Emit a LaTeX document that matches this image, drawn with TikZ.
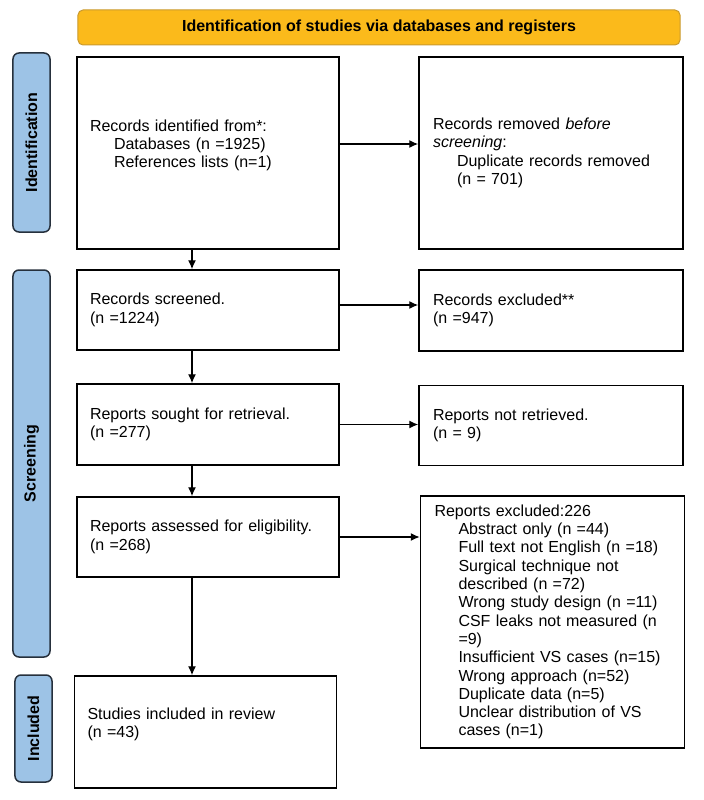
\documentclass[tikz,border=0pt]{standalone}
\usepackage{fontspec}
\setmainfont{Liberation Sans}
\usepackage{xcolor}
\usetikzlibrary{arrows.meta}
\definecolor{prismaGold}{HTML}{FBBA1B}
\definecolor{prismaGoldEdge}{HTML}{C9992E}
\definecolor{prismaBlue}{HTML}{9DC3E6}
\definecolor{prismaNavy}{HTML}{26303C}
\newcommand{\subind}{\hspace*{24bp}}
\tikzset{
    header-box/.style = {draw=prismaGoldEdge, fill=prismaGold, line width=1bp, rectangle, rounded corners=5bp, minimum width=602bp, minimum height=35bp, font=\fontsize{16bp}{18.3bp}\selectfont\bfseries},
    phase-label/.style = {draw=prismaNavy, fill=prismaBlue, line width=1.5bp, rectangle, rounded corners=6bp, rotate=90, minimum height=37bp, font=\fontsize{16bp}{18.3bp}\selectfont\bfseries},
    flow-box/.style = {draw=black, fill=white, line width=1.5bp, rectangle, align=left, inner xsep=13bp, text width=236bp, minimum height=#1, font=\fontsize{16bp}{18.3bp}\selectfont},
    side-box/.style = {flow-box=#1, inner xsep=14bp},
    flow-arrow/.style = {-{Latex[length=9bp, width=8bp]}, line width=1.3bp},
}

\begin{document}
\begin{tikzpicture}[x=1bp, y=-1bp]
\useasboundingbox (0,0) rectangle (704,800);
% header and phases
\node[header-box] (header) at (379,27.5) {Identification of studies via databases and registers};
\node[phase-label, minimum width=179bp] (ident) at (31.5,142.5) {Identification};
\node[phase-label, minimum width=387bp] (screen) at (31.5,463.5) {Screening};
\node[phase-label, minimum width=107bp] (incl) at (33.5,728.5) {Included};
% main column
\node[flow-box=192bp] (idrec) at (208,153) {Records identified from*:\\
    \subind Databases (n =1925)\\
    \subind References lists (n=1)\\ \mbox{}};
\node[flow-box=80bp] (screened) at (208,310) {Records screened.\\(n =1224)};
\node[flow-box=81bp] (sought) at (208,424.5) {Reports sought for retrieval.\\(n =277)};
\node[flow-box=80bp] (assessed) at (208,537) {Reports assessed for eligibility.\\(n =268)};
\node[flow-box=112bp] (included) at (205.5,732) {Studies included in review\\(n =43)\\ \mbox{}};
% side column
\node[side-box=192bp] (removed) at (551,153) {Records removed \textit{before}\\
    \textit{screening}:\\
    \subind Duplicate records removed\\
    \subind (n = 701)};
\node[side-box=81bp] (excluded) at (551,310.5) {Records excluded**\\(n =947)};
\node[side-box=80bp] (notretr) at (551,425.5) {Reports not retrieved.\\(n = 9)};
\node[side-box=252bp] (reportsexcl) at (552.5,622) {Reports excluded:226\\
    \subind Abstract only (n =44)\\
    \subind Full text not English (n =18)\\
    \subind Surgical technique not\\
    \subind described (n =72)\\
    \subind Wrong study design (n =11)\\
    \subind CSF leaks not measured (n\\
    \subind =9)\\
    \subind Insufficient VS cases (n=15)\\
    \subind Wrong approach (n=52)\\
    \subind Duplicate data (n=5)\\
    \subind Unclear distribution of VS\\
    \subind cases (n=1)};
% arrows
\coordinate (stem) at (192,0);
\draw[flow-arrow] (idrec.south -| stem) -- (screened.north -| stem);
\draw[flow-arrow] (screened.south -| stem) -- (sought.north -| stem);
\draw[flow-arrow] (sought.south -| stem) -- (assessed.north -| stem);
\draw[flow-arrow] (assessed.south -| stem) -- (included.north -| stem);
\draw[flow-arrow] ([yshift=9bp]idrec.east) -- ([yshift=9bp]idrec.east -| removed.west);
\draw[flow-arrow] ([yshift=5bp]screened.east) -- ([yshift=5bp]screened.east -| excluded.west);
\draw[flow-arrow] (sought.east) -- (sought.east -| notretr.west);
\draw[flow-arrow] (assessed.east) -- (assessed.east -| reportsexcl.west);
\end{tikzpicture}
\end{document}
